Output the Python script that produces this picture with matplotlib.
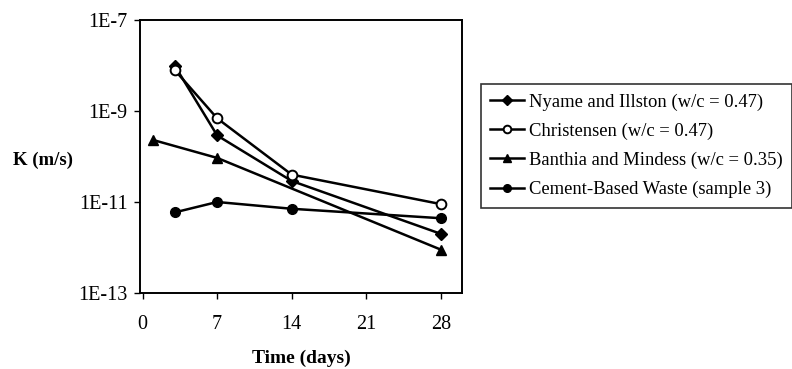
import numpy as np
import matplotlib.pyplot as plt

plt.rcParams['font.family'] = 'Liberation Serif'
plt.rcParams['font.size'] = 12

# permeability K (m/s) vs age (days)
days_nyame = [3, 7, 14, 28]
k_nyame = [1.0e-8, 2.9e-10, 2.9e-11, 2.0e-12]
days_chris = [3, 7, 14, 28]
k_chris = [8.0e-9, 6.9e-10, 4.0e-11, 9.0e-12]
days_banthia = [1, 7, 28]
k_banthia = [2.3e-10, 9.3e-11, 9.0e-13]
days_waste = [3, 7, 14, 28]
k_waste = [5.9e-12, 1.0e-11, 7.1e-12, 4.4e-12]

labels = ["Nyame and Illston (w/c = 0.47)",
          "Christensen (w/c = 0.47)",
          "Banthia and Mindess (w/c = 0.35)",
          "Cement-Based Waste (sample 3)"]

fig = plt.figure(figsize=(7.92, 3.69), dpi=100)
ax = fig.add_axes([140/792, 1-293/369, (462-140)/792, (293-20)/369])

kw = dict(color='black', lw=1.8, ms=7)
ax.plot(days_nyame, k_nyame, marker='D', ms=6, mfc='black', label=labels[0], color='black', lw=1.8)
ax.plot(days_chris, k_chris, marker='o', mfc='white', mew=1.4, label=labels[1], **kw)
ax.plot(days_banthia, k_banthia, marker='^', mfc='black', label=labels[2], **kw)
ax.plot(days_waste, k_waste, marker='o', mfc='black', label=labels[3], **kw)

ax.set_yscale('log')
ax.set_ylim(1e-13, 1e-7)
ax.set_yticks([1e-13, 1e-11, 1e-9, 1e-7])
ax.set_yticklabels(['1E-13', '1E-11', '1E-9', '1E-7'])
ax.minorticks_off()
ax.set_xlim(-0.25, 30)
ax.set_xticks([0, 7, 14, 21, 28])
ax.tick_params(direction='out', length=4, width=1, labelsize=14.5)
ax.tick_params(axis='y', pad=5)
ax.tick_params(axis='x', pad=12)
for s in ax.spines.values():
    s.set_linewidth(1.4)

ax.set_xlabel('Time (days)', fontweight='bold', fontsize=14, labelpad=11)
ax.set_ylabel('K (m/s)', fontweight='bold', fontsize=13.5, rotation=0, va='center')
ax.yaxis.set_label_coords(-0.30, 0.485)

leg = fig.legend(loc='upper left', bbox_to_anchor=(481/792, 1-84/369),
                 frameon=True, fancybox=False, edgecolor='black',
                 handlelength=1.8, handletextpad=0.3, borderpad=0.5,
                 labelspacing=0.64, fontsize=13.4, borderaxespad=0)
leg.get_frame().set_linewidth(1.2)
for h in leg.legend_handles:
    h.set_markersize(5.5)

fig.savefig('out.png', dpi=100)
